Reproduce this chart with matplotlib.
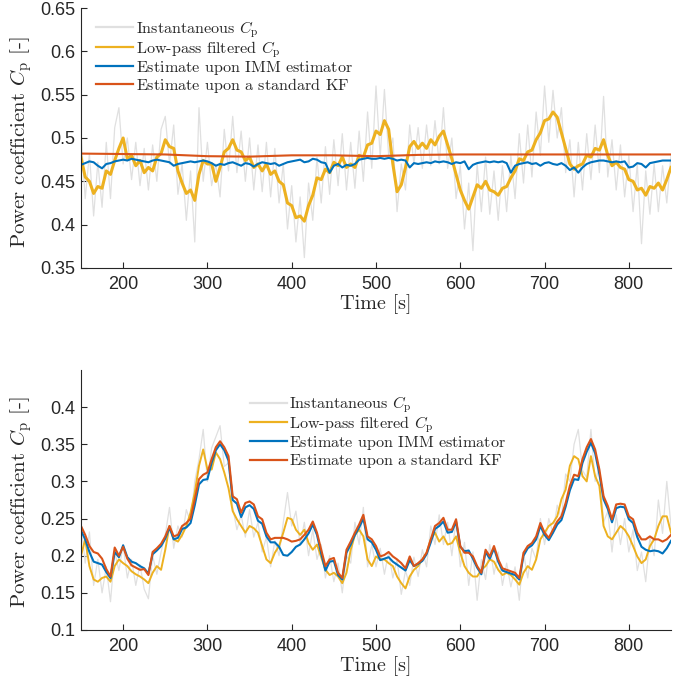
"""
Power coefficient estimates: instantaneous Cp, low-pass filtered Cp and the
estimates from an IMM estimator and a standard Kalman filter, for two cases.
"""
import numpy as np
import matplotlib.pyplot as plt

plt.rcParams['mathtext.fontset'] = 'cm'
plt.rcParams['axes.unicode_minus'] = False

# time axis, samples every 5 s
time = np.arange(150, 851, 5)
time_kf_top = np.arange(150, 851, 50)

# ---- upper case ----
cp_inst_top = [
    0.505, 0.430, 0.482, 0.410, 0.472, 0.420, 0.495, 0.430, 0.512, 0.535,
    0.470, 0.500, 0.452, 0.495, 0.445, 0.488, 0.440, 0.492, 0.450, 0.510,
    0.525, 0.470, 0.515, 0.435, 0.470, 0.405, 0.462, 0.380, 0.535, 0.450,
    0.495, 0.445, 0.470, 0.432, 0.510, 0.462, 0.525, 0.460, 0.508, 0.450,
    0.500, 0.440, 0.492, 0.438, 0.495, 0.432, 0.488, 0.425, 0.470, 0.395,
    0.445, 0.380, 0.432, 0.362, 0.448, 0.405, 0.478, 0.425, 0.490, 0.435,
    0.498, 0.445, 0.505, 0.440, 0.495, 0.442, 0.508, 0.450, 0.530, 0.465,
    0.560, 0.478, 0.556, 0.480, 0.500, 0.415, 0.470, 0.440, 0.515, 0.470,
    0.512, 0.465, 0.515, 0.468, 0.520, 0.470, 0.535, 0.465, 0.500, 0.430,
    0.468, 0.395, 0.448, 0.370, 0.470, 0.415, 0.478, 0.412, 0.462, 0.405,
    0.468, 0.415, 0.480, 0.430, 0.505, 0.448, 0.515, 0.455, 0.530, 0.480,
    0.560, 0.495, 0.555, 0.500, 0.535, 0.460, 0.498, 0.432, 0.495, 0.440,
    0.505, 0.452, 0.515, 0.460, 0.548, 0.455, 0.498, 0.440, 0.492, 0.432,
    0.480, 0.415, 0.470, 0.378, 0.462, 0.412, 0.470, 0.415, 0.468, 0.425,
    0.480]
cp_lp_top = [
    0.478, 0.455, 0.450, 0.436, 0.444, 0.442, 0.462, 0.458, 0.474, 0.488,
    0.500, 0.476, 0.480, 0.468, 0.474, 0.460, 0.466, 0.462, 0.478, 0.482,
    0.498, 0.490, 0.488, 0.462, 0.448, 0.436, 0.440, 0.428, 0.458, 0.474,
    0.470, 0.470, 0.450, 0.466, 0.484, 0.488, 0.498, 0.486, 0.484, 0.474,
    0.478, 0.466, 0.470, 0.462, 0.470, 0.458, 0.462, 0.450, 0.446, 0.425,
    0.422, 0.408, 0.410, 0.404, 0.422, 0.434, 0.454, 0.452, 0.464, 0.460,
    0.472, 0.468, 0.478, 0.466, 0.470, 0.466, 0.480, 0.478, 0.492, 0.494,
    0.508, 0.504, 0.520, 0.510, 0.470, 0.438, 0.446, 0.466, 0.490, 0.496,
    0.488, 0.494, 0.488, 0.498, 0.492, 0.502, 0.508, 0.492, 0.476, 0.458,
    0.440, 0.428, 0.418, 0.432, 0.446, 0.442, 0.450, 0.440, 0.438, 0.434,
    0.442, 0.444, 0.454, 0.462, 0.476, 0.474, 0.484, 0.486, 0.498, 0.506,
    0.520, 0.522, 0.530, 0.524, 0.506, 0.488, 0.470, 0.464, 0.468, 0.470,
    0.480, 0.478, 0.488, 0.486, 0.498, 0.480, 0.468, 0.472, 0.466, 0.464,
    0.452, 0.450, 0.440, 0.442, 0.434, 0.444, 0.442, 0.448, 0.440, 0.452,
    0.466]
cp_imm_top = [
    0.469, 0.471, 0.473, 0.472, 0.468, 0.465, 0.470, 0.471, 0.473, 0.474,
    0.475, 0.474, 0.476, 0.475, 0.474, 0.473, 0.472, 0.474, 0.475, 0.474,
    0.473, 0.472, 0.468, 0.470, 0.471, 0.472, 0.473, 0.472, 0.473, 0.474,
    0.473, 0.471, 0.468, 0.470, 0.469, 0.471, 0.472, 0.470, 0.468, 0.471,
    0.470, 0.467, 0.470, 0.472, 0.471, 0.470, 0.471, 0.468, 0.470, 0.472,
    0.473, 0.474, 0.475, 0.472, 0.473, 0.476, 0.475, 0.472, 0.471, 0.460,
    0.468, 0.470, 0.466, 0.469, 0.468, 0.470, 0.475, 0.476, 0.477, 0.476,
    0.476, 0.477, 0.476, 0.477, 0.476, 0.474, 0.475, 0.474, 0.466, 0.471,
    0.470, 0.471, 0.472, 0.471, 0.473, 0.472, 0.473, 0.472, 0.470, 0.472,
    0.471, 0.473, 0.464, 0.469, 0.471, 0.472, 0.473, 0.472, 0.473, 0.472,
    0.473, 0.471, 0.460, 0.468, 0.470, 0.471, 0.472, 0.470, 0.471, 0.468,
    0.471, 0.472, 0.470, 0.469, 0.471, 0.468, 0.463, 0.466, 0.460, 0.466,
    0.470, 0.472, 0.473, 0.474, 0.474, 0.473, 0.472, 0.473, 0.472, 0.473,
    0.466, 0.467, 0.471, 0.470, 0.466, 0.471, 0.472, 0.473, 0.474, 0.474,
    0.474]
cp_kf_top = [0.482, 0.4815, 0.481, 0.479, 0.4785, 0.480, 0.480, 0.479,
             0.4805, 0.481, 0.481, 0.481, 0.481, 0.481, 0.481]

# ---- lower case ----
cp_inst_bot = [
    0.245, 0.190, 0.232, 0.160, 0.195, 0.150, 0.185, 0.138, 0.205, 0.180,
    0.215, 0.170, 0.195, 0.160, 0.188, 0.155, 0.142, 0.200, 0.175, 0.205,
    0.228, 0.265, 0.210, 0.240, 0.225, 0.262, 0.245, 0.300, 0.330, 0.370,
    0.300, 0.345, 0.360, 0.375, 0.320, 0.325, 0.265, 0.235, 0.255, 0.225,
    0.262, 0.225, 0.245, 0.205, 0.225, 0.185, 0.220, 0.200, 0.245, 0.285,
    0.240, 0.260, 0.215, 0.245, 0.200, 0.235, 0.195, 0.215, 0.170, 0.200,
    0.165, 0.190, 0.150, 0.200, 0.190, 0.245, 0.215, 0.265, 0.185, 0.215,
    0.185, 0.210, 0.175, 0.205, 0.170, 0.195, 0.148, 0.180, 0.160, 0.198,
    0.172, 0.208, 0.185, 0.240, 0.215, 0.255, 0.215, 0.245, 0.200, 0.250,
    0.185, 0.218, 0.160, 0.205, 0.140, 0.195, 0.168, 0.215, 0.175, 0.205,
    0.160, 0.190, 0.158, 0.185, 0.140, 0.205, 0.170, 0.210, 0.195, 0.250,
    0.215, 0.250, 0.230, 0.268, 0.250, 0.310, 0.300, 0.350, 0.370, 0.315,
    0.305, 0.370, 0.300, 0.320, 0.245, 0.260, 0.205, 0.255, 0.215, 0.250,
    0.205, 0.235, 0.180, 0.205, 0.165, 0.225, 0.200, 0.275, 0.230, 0.300,
    0.240]
cp_lp_bot = [
    0.200, 0.222, 0.186, 0.168, 0.165, 0.170, 0.172, 0.165, 0.186, 0.195,
    0.190, 0.186, 0.179, 0.175, 0.172, 0.168, 0.163, 0.177, 0.186, 0.181,
    0.208, 0.240, 0.222, 0.219, 0.228, 0.240, 0.258, 0.285, 0.321, 0.343,
    0.316, 0.316, 0.339, 0.330, 0.312, 0.291, 0.260, 0.249, 0.240, 0.231,
    0.240, 0.237, 0.231, 0.213, 0.195, 0.190, 0.204, 0.213, 0.231, 0.251,
    0.249, 0.235, 0.228, 0.235, 0.217, 0.208, 0.215, 0.198, 0.181, 0.174,
    0.177, 0.172, 0.163, 0.177, 0.208, 0.228, 0.235, 0.226, 0.195, 0.186,
    0.199, 0.195, 0.195, 0.190, 0.186, 0.172, 0.163, 0.156, 0.172, 0.181,
    0.186, 0.195, 0.204, 0.222, 0.231, 0.219, 0.226, 0.215, 0.217, 0.226,
    0.204, 0.186, 0.177, 0.172, 0.172, 0.181, 0.186, 0.195, 0.192, 0.181,
    0.174, 0.177, 0.174, 0.168, 0.161, 0.177, 0.186, 0.181, 0.195, 0.222,
    0.231, 0.240, 0.244, 0.253, 0.276, 0.289, 0.321, 0.334, 0.330, 0.307,
    0.300, 0.334, 0.307, 0.294, 0.240, 0.226, 0.222, 0.231, 0.240, 0.235,
    0.226, 0.213, 0.199, 0.190, 0.195, 0.213, 0.222, 0.240, 0.253, 0.253,
    0.231]
cp_imm_bot = [
    0.234, 0.222, 0.205, 0.192, 0.190, 0.188, 0.178, 0.170, 0.205, 0.198,
    0.214, 0.198, 0.192, 0.190, 0.186, 0.183, 0.176, 0.202, 0.207, 0.213,
    0.223, 0.238, 0.222, 0.224, 0.236, 0.238, 0.244, 0.268, 0.296, 0.302,
    0.303, 0.325, 0.342, 0.350, 0.342, 0.328, 0.275, 0.270, 0.252, 0.265,
    0.268, 0.263, 0.247, 0.243, 0.226, 0.218, 0.218, 0.212, 0.201, 0.200,
    0.205, 0.212, 0.215, 0.222, 0.230, 0.242, 0.228, 0.203, 0.180, 0.192,
    0.193, 0.174, 0.168, 0.204, 0.215, 0.228, 0.238, 0.250, 0.222, 0.218,
    0.208, 0.194, 0.196, 0.198, 0.192, 0.188, 0.184, 0.180, 0.194, 0.186,
    0.189, 0.193, 0.202, 0.218, 0.236, 0.240, 0.246, 0.231, 0.232, 0.246,
    0.212, 0.206, 0.207, 0.196, 0.184, 0.175, 0.205, 0.196, 0.210, 0.192,
    0.180, 0.178, 0.176, 0.174, 0.168, 0.200, 0.210, 0.214, 0.222, 0.240,
    0.228, 0.221, 0.231, 0.242, 0.248, 0.266, 0.288, 0.303, 0.302, 0.325,
    0.340, 0.352, 0.338, 0.310, 0.276, 0.263, 0.245, 0.264, 0.266, 0.265,
    0.249, 0.244, 0.225, 0.212, 0.208, 0.206, 0.207, 0.206, 0.203, 0.210,
    0.220]
cp_kf_bot = [
    0.240, 0.228, 0.213, 0.205, 0.203, 0.196, 0.182, 0.172, 0.211, 0.200,
    0.212, 0.196, 0.187, 0.184, 0.181, 0.182, 0.174, 0.205, 0.210, 0.216,
    0.226, 0.240, 0.226, 0.228, 0.240, 0.244, 0.250, 0.276, 0.303, 0.309,
    0.312, 0.330, 0.346, 0.354, 0.346, 0.334, 0.280, 0.276, 0.258, 0.271,
    0.273, 0.269, 0.253, 0.249, 0.231, 0.222, 0.224, 0.224, 0.224, 0.222,
    0.219, 0.220, 0.222, 0.228, 0.235, 0.246, 0.231, 0.208, 0.186, 0.195,
    0.197, 0.177, 0.170, 0.208, 0.219, 0.231, 0.242, 0.255, 0.226, 0.222,
    0.213, 0.199, 0.201, 0.205, 0.199, 0.195, 0.190, 0.183, 0.199, 0.186,
    0.190, 0.195, 0.204, 0.222, 0.240, 0.244, 0.251, 0.235, 0.235, 0.249,
    0.213, 0.204, 0.204, 0.199, 0.186, 0.177, 0.208, 0.199, 0.213, 0.195,
    0.183, 0.181, 0.179, 0.177, 0.170, 0.204, 0.213, 0.217, 0.226, 0.244,
    0.231, 0.224, 0.235, 0.246, 0.253, 0.271, 0.294, 0.309, 0.307, 0.330,
    0.346, 0.357, 0.343, 0.316, 0.280, 0.267, 0.249, 0.269, 0.270, 0.269,
    0.253, 0.249, 0.231, 0.222, 0.222, 0.226, 0.222, 0.222, 0.219, 0.222,
    0.228]

# every label carries some math so all legend rows get the same kind of height
labels = ['Instantaneous $C_\\mathrm{p}$', 'Low-pass filtered $C_\\mathrm{p}$',
          'Estimate upon IMM estimator$\\,$', 'Estimate upon a standard KF$\\,$']
colors = ['#e0e0e0', '#EDB120', '#0072BD', '#D95319']
serif = 'cmr10'
dark = '#262626'


def draw_panel(ax, inst, lp, imm, kf, t_kf, ylim, yticks, legend_anchor,
               ylabel_y, lp_width=1.4):
    ax.plot(time, inst, color=colors[0], lw=0.9, label=labels[0])
    ax.plot(time, lp, color=colors[1], lw=lp_width, label=labels[1])
    ax.plot(time, imm, color=colors[2], lw=1.5, label=labels[2])
    ax.plot(t_kf, kf, color=colors[3], lw=1.5, label=labels[3])
    ax.set_xlim(150, 850)
    ax.set_ylim(*ylim)
    ax.set_xticks([200, 300, 400, 500, 600, 700, 800])
    ax.set_yticks(yticks)
    ax.set_yticklabels([f'{v:g}' for v in yticks])
    for s in ['top', 'right']:
        ax.spines[s].set_visible(False)
    for s in ['left', 'bottom']:
        ax.spines[s].set_color(dark)
        ax.spines[s].set_linewidth(0.8)
    ax.tick_params(direction='in', length=4, width=0.8, colors=dark,
                   labelsize=13)
    ax.tick_params(axis='x', pad=6)
    ax.tick_params(axis='y', pad=4)
    for lab in ax.get_xticklabels() + ax.get_yticklabels():
        lab.set_fontfamily('Liberation Sans')
    ax.set_xlabel('Time [s]', fontfamily=serif, fontsize=14.5, color=dark,
                  labelpad=1)
    ax.set_ylabel('Power coefficient $C_\\mathrm{p}$ [-]', fontfamily=serif,
                  fontsize=15, color=dark)
    ax.yaxis.set_label_coords(-0.08, ylabel_y)
    leg = ax.legend(loc='upper left', bbox_to_anchor=legend_anchor,
                    borderaxespad=0, frameon=False, handlelength=2.3,
                    handletextpad=0.15, labelspacing=-0.05,
                    prop={'family': serif, 'size': 11.6})
    for line in leg.get_lines():
        line.set_linewidth(1.6)
    for txt in leg.get_texts():
        txt.set_color(dark)


fig = plt.figure(figsize=(6.84, 6.85), dpi=100)
ax1 = fig.add_axes([0.1184, 0.6088, 0.8626, 0.3795])
ax2 = fig.add_axes([0.1184, 0.0803, 0.8626, 0.3796])

draw_panel(ax1, cp_inst_top, cp_lp_top, cp_imm_top, cp_kf_top, time_kf_top,
           (0.35, 0.65), [0.35, 0.4, 0.45, 0.5, 0.55, 0.6, 0.65], (0.015, 0.982),
           0.485, lp_width=2.2)
draw_panel(ax2, cp_inst_bot, cp_lp_bot, cp_imm_bot, cp_kf_bot, time,
           (0.1, 0.45), [0.1, 0.15, 0.2, 0.25, 0.3, 0.35, 0.4], (0.275, 0.931),
           0.49)

fig.savefig('out.png', dpi=100)
